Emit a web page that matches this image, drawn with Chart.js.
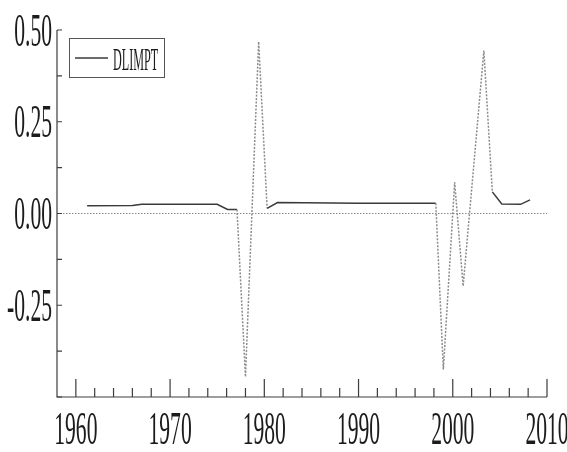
<!DOCTYPE html>
<html>
<head>
<meta charset="utf-8">
<title>DLIMPT</title>
<script src="https://cdn.jsdelivr.net/npm/chart.js@4/dist/chart.umd.min.js"></script>
<style>
    html, body { margin: 0; padding: 0; background: #fff; }
    #wrap { width: 567px; height: 452px; }
</style>
</head>
<body>
<div id="wrap"><canvas id="dlimptChart" width="567" height="452"></canvas></div>
<script>
// ============================================
// Series data
// ============================================
const years  = [1961.2, 1966, 1967, 1975, 1976.1, 1977.1, 1978, 1979.4, 1980.3, 1981.4,
                1990, 1998.2, 1999, 2000.2, 2001.1, 2003.3, 2004.2, 2005.2, 2007.2, 2008.2];
const dlimpt = [0.021, 0.022, 0.025, 0.025, 0.011, 0.011, -0.445, 0.468, 0.014, 0.030,
                0.028, 0.028, -0.425, 0.085, -0.198, 0.444, 0.059, 0.026, 0.025, 0.037];

const xTicks = [1960, 1962, 1964, 1966, 1968, 1970, 1972, 1974, 1976, 1978, 1980,
                1982, 1984, 1986, 1988, 1990, 1992, 1994, 1996, 1998, 2000,
                2002, 2004, 2006, 2008, 2010];
const xLabels = [1960, 1970, 1980, 1990, 2000, 2010];
const yTicks = [-0.5, -0.375, -0.25, -0.125, 0, 0.125, 0.25, 0.375, 0.5];
const yLabelValues = [0.5, 0.25, 0, -0.25];
const yLabels = ['0.50', '0.25', '0.00', '-0.25'];
const seriesName = 'DLIMPT';

// ============================================
// Styling helpers
// ============================================
const INK = '#1c1c1c';
const AXIS = '#3c3c3c';
const SERIF = '"Liberation Serif", "DejaVu Serif", serif';

function isSteep(ctx) {
    return Math.abs(ctx.p1.y - ctx.p0.y) > 25;
}

// narrow, tall numerals: squeeze text horizontally
function squeezedText(ctx, text, x, y, size, sx, align) {
    ctx.save();
    ctx.font = size + 'px ' + SERIF;
    ctx.fillStyle = INK;
    ctx.textAlign = align;
    ctx.textBaseline = 'alphabetic';
    ctx.translate(x, y);
    ctx.scale(sx, 1);
    ctx.fillText(text, 0, 0);
    ctx.restore();
}

// ============================================
// Axes, zero line and legend
// ============================================
const framePlugin = {
    id: 'frame',
    beforeDatasetsDraw(chart) {
        const { ctx, scales: { x, y } } = chart;
        const y0 = y.getPixelForValue(0);
        ctx.save();
        ctx.strokeStyle = '#8a8a8a';
        ctx.lineWidth = 1.2;
        ctx.setLineDash([1.5, 1.5]);
        ctx.beginPath();
        ctx.moveTo(x.getPixelForValue(1958), y0);
        ctx.lineTo(x.getPixelForValue(2010), y0);
        ctx.stroke();
        ctx.restore();
    },
    afterDraw(chart) {
        const { ctx, scales: { x, y } } = chart;
        const left = x.getPixelForValue(1958);
        const right = x.getPixelForValue(2010);
        const top = y.getPixelForValue(0.5);
        const bottom = y.getPixelForValue(-0.5);

        ctx.save();
        ctx.strokeStyle = AXIS;
        ctx.lineWidth = 1.2;
        ctx.beginPath();
        ctx.moveTo(left, top);
        ctx.lineTo(left, bottom);
        ctx.lineTo(right, bottom);
        ctx.stroke();

        // y ticks point into the plot
        ctx.beginPath();
        yTicks.forEach(v => {
            const py = y.getPixelForValue(v);
            ctx.moveTo(left, py);
            ctx.lineTo(left + 5, py);
        });
        // x ticks, longer on the decades
        xTicks.forEach(yr => {
            const px = x.getPixelForValue(yr);
            const len = yr % 10 === 0 ? 18 : 9;
            ctx.moveTo(px, bottom);
            ctx.lineTo(px, bottom - len);
        });
        ctx.stroke();
        ctx.restore();

        yLabelValues.forEach((v, i) => {
            squeezedText(ctx, yLabels[i], 52, y.getPixelForValue(v) + 15.5, 46, 0.47, 'right');
        });
        xLabels.forEach(yr => {
            squeezedText(ctx, String(yr), x.getPixelForValue(yr), 444, 46, 0.47, 'center');
        });

        // legend box
        ctx.save();
        ctx.strokeStyle = '#555';
        ctx.lineWidth = 1;
        ctx.strokeRect(69.5, 38.5, 95, 39);
        ctx.strokeStyle = '#3a3a3a';
        ctx.lineWidth = 1.5;
        ctx.beginPath();
        ctx.moveTo(75, 58);
        ctx.lineTo(108, 58);
        ctx.stroke();
        ctx.restore();
        squeezedText(ctx, seriesName, 113, 70, 32, 0.38, 'left');
    }
};

// ============================================
// Chart
// ============================================
const points = years.map((yr, i) => ({ x: yr, y: dlimpt[i] }));

new Chart(document.getElementById('dlimptChart'), {
    type: 'line',
    data: {
        datasets: [{
            label: seriesName,
            data: points,
            borderColor: '#3a3a3a',
            borderWidth: 1.5,
            pointRadius: 0,
            tension: 0,
            segment: {
                borderColor: ctx => isSteep(ctx) ? '#8c8c8c' : '#3a3a3a',
                borderDash: ctx => isSteep(ctx) ? [2, 1.5] : undefined
            }
        }]
    },
    options: {
        responsive: false,
        animation: false,
        devicePixelRatio: 1,
        layout: { padding: { left: 57, right: 20, top: 30, bottom: 55 } },
        scales: {
            x: { type: 'linear', min: 1958, max: 2010, display: false },
            y: { min: -0.5, max: 0.5, display: false }
        },
        plugins: {
            legend: { display: false },
            tooltip: { enabled: false }
        }
    },
    plugins: [framePlugin]
});
</script>
</body>
</html>
